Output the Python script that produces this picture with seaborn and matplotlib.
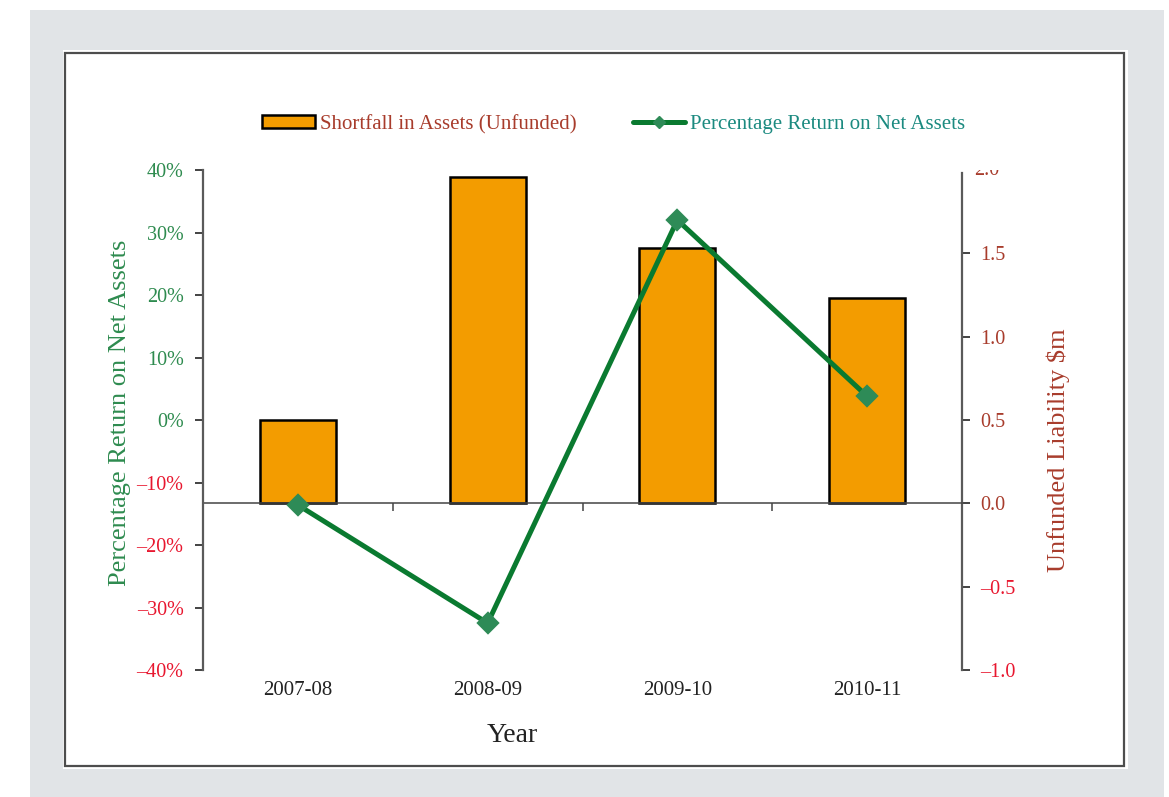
import numpy as np
import pandas as pd
import matplotlib
matplotlib.use("Agg")
import matplotlib.pyplot as plt
from matplotlib.patches import Rectangle
from matplotlib.lines import Line2D
from matplotlib.patches import Patch
from matplotlib.transforms import Bbox, TransformedBbox
from matplotlib.ticker import FuncFormatter
import seaborn as sns

# ---- data ----
years = ["2007-08", "2008-09", "2009-10", "2010-11"]
shortfall = [0.50, 1.96, 1.53, 1.23]          # unfunded liability, $m
returns_pct = [-13.6, -32.5, 32.0, 3.8]        # percentage return on net assets

left_ticks = [-40, -30, -20, -10, 0, 10, 20, 30, 40]
right_ticks = [-1.0, -0.5, 0.0, 0.5, 1.0, 1.5]

# ---- colours ----
bar_col = "#f39c00"
line_col = "#0a7a30"
marker_col = "#2e8b57"
pos_green = "#2e8b4f"
neg_red = "#e8172f"
liab_red = "#a83c2c"
legend_teal = "#1b8a80"
axis_grey = "#5a5a5a"

TICK_FS = 14.5
TITLE_FS = 19

sns.set_theme(style="white")
plt.rcParams["font.family"] = ["Liberation Serif", "DejaVu Serif"]

df = pd.DataFrame({"Year": years, "Shortfall": shortfall, "Return": returns_pct})

fig = plt.figure(figsize=(11.69, 7.97), dpi=100)
fig.patch.set_facecolor("white")

# background frame
fig.patches.append(Rectangle((0.0257, 0.0), 0.970, 0.9875, transform=fig.transFigure,
                             facecolor="#e1e4e7", edgecolor="none", zorder=-3))
fig.patches.append(Rectangle((0.0539, 0.0351), 0.911, 0.9021, transform=fig.transFigure,
                             facecolor="white", edgecolor="none", zorder=-2))
fig.patches.append(Rectangle((0.0560, 0.0389), 0.9055, 0.894, transform=fig.transFigure,
                             facecolor="none", edgecolor="#4d4d4d", lw=1.6, zorder=-1))

ax = fig.add_axes([0.1737, 0.1593, 0.6492, 0.6274])
ax.patch.set_visible(False)

# bars: unfunded liability (right-hand scale)
sns.barplot(data=df, x="Year", y="Shortfall", color=bar_col, width=0.4,
            edgecolor="black", linewidth=1.8, saturation=1, ax=ax, zorder=2)
ax.set_ylim(-1.0, 2.0)
ax.set_xlim(-0.5, len(years) - 0.5)

# line: percentage return (left-hand scale)
ax2 = ax.twinx()
sns.pointplot(data=df, x="Year", y="Return", color=line_col, markers="D",
              linewidth=3.6, markersize=9, markerfacecolor=marker_col,
              markeredgecolor=marker_col, errorbar=None, ax=ax2)
ax2.set_ylim(-40, 40)
ax2.set_xlim(-0.5, len(years) - 0.5)


def dash(s):
    return s.replace("-", "\u2013")


# left axis (percent) on ax2
ax2.yaxis.tick_left()
ax2.set_yticks(left_ticks)
ax2.yaxis.set_major_formatter(FuncFormatter(lambda v, p: dash(f"{v:.0f}%")))
ax2.tick_params(axis="y", left=True, right=False, length=6, width=1.2,
                color="#222222", labelsize=TICK_FS, pad=8)
for lab, v in zip(ax2.get_yticklabels(), left_ticks):
    lab.set_color(neg_red if v < 0 else pos_green)
ax2.set_ylabel("Percentage Return on Net Assets", color=pos_green, fontsize=TITLE_FS)
ax2.yaxis.set_label_position("left")
ax2.yaxis.set_label_coords(-0.0945, 0.514)

# right axis (liability) on ax
ax.yaxis.tick_right()
ax.set_yticks(right_ticks)
ax.yaxis.set_major_formatter(FuncFormatter(lambda v, p: dash(f"{v:.1f}")))
ax.tick_params(axis="y", right=True, left=False, length=6, width=1.2,
               color="#222222", labelsize=TICK_FS, pad=7)
for lab, v in zip(ax.get_yticklabels(), right_ticks):
    lab.set_color(neg_red if v < 0 else liab_red)
ax.set_ylabel("Unfunded Liability $m", color=liab_red, fontsize=TITLE_FS, rotation=90)
ax.yaxis.set_label_position("right")
ax.yaxis.set_label_coords(1.112, 0.44)

# top label of the right scale, cut by the plot's upper edge
top_clip = TransformedBbox(Bbox([[0, 0], [1, 0.7867]]), fig.transFigure)
t = ax.text(1.016, 2.0, "2.0", transform=ax.get_yaxis_transform(), color=liab_red,
            fontsize=TICK_FS, va="center", ha="left", clip_on=True)
t.set_clip_box(top_clip)

# spines
for a in (ax, ax2):
    for side in ("top", "left", "right", "bottom"):
        a.spines[side].set_visible(False)
ax2.spines["left"].set_visible(True)
ax2.spines["left"].set_color(axis_grey)
ax2.spines["left"].set_linewidth(1.6)
ax.spines["right"].set_visible(True)
ax.spines["right"].set_color(axis_grey)
ax.spines["right"].set_linewidth(1.6)
ax.spines["right"].set_bounds(-1.0, 1.98)

# category axis crossing at zero liability
ax.spines["bottom"].set_visible(True)
ax.spines["bottom"].set_position(("data", 0))
ax.spines["bottom"].set_color("#444444")
ax.spines["bottom"].set_linewidth(1.1)
cat_pos = list(ax.get_xticks())
ax.set_xticks([(a + b) / 2 for a, b in zip(cat_pos[:-1], cat_pos[1:])], minor=True)
ax.tick_params(axis="x", which="major", length=0, bottom=False, labelbottom=False)
ax.tick_params(axis="x", which="minor", length=6, width=1.1, color="#444444",
               bottom=True, direction="out", labelbottom=False)
ax.set_xlabel("")

# category labels along the lower edge
ax2.xaxis.set_visible(True)
ax2.set_xticks(cat_pos)
ax2.set_xticklabels(years)
ax2.tick_params(axis="x", length=0, labelsize=TICK_FS + 0.5, labelcolor="#222222", pad=8,
                bottom=True, top=False, labelbottom=True, labeltop=False)
ax2.set_xlabel("Year", fontsize=20, color="#222222")
ax2.xaxis.set_label_position("bottom")
ax2.xaxis.set_label_coords(0.408, -0.105)

ax.grid(False)
ax2.grid(False)

# legend
handles = [Patch(facecolor=bar_col, edgecolor="black", linewidth=1.8),
           Line2D([], [], color=line_col, lw=3.6, marker="D", markersize=6,
                  markerfacecolor=marker_col, markeredgecolor=marker_col)]
leg = fig.legend(handles, ["Shortfall in Assets (Unfunded)", "Percentage Return on Net Assets"],
                 loc="center", bbox_to_anchor=(0.525, 0.844), ncol=2, frameon=False,
                 fontsize=15, handlelength=2.5, handleheight=0.6, handletextpad=0.25,
                 columnspacing=2.7)
leg.get_texts()[0].set_color(liab_red)
leg.get_texts()[1].set_color(legend_teal)

fig.savefig("out.png", dpi=100, facecolor=fig.get_facecolor())
